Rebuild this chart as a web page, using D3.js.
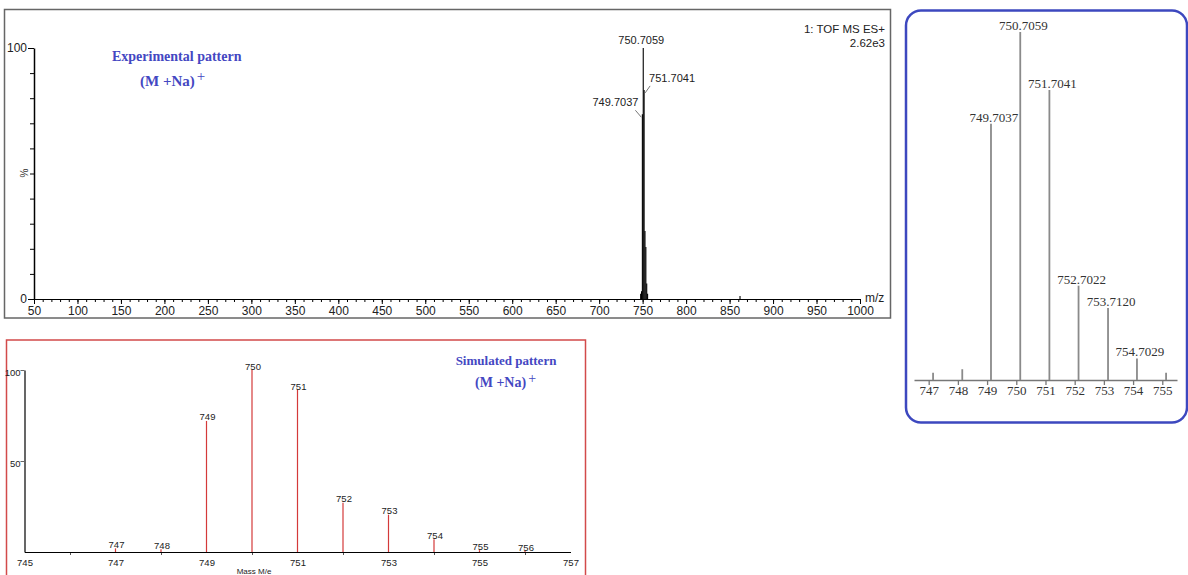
<!DOCTYPE html>
<html>
<head>
<meta charset="utf-8">
<script src="https://cdn.jsdelivr.net/npm/d3@7"></script>
<style>
  body { margin: 0; background: #fff; }
  svg { display: block; }
  .sans { font-family: "Liberation Sans", Arial, sans-serif; }
  .serif { font-family: "Liberation Serif", "Times New Roman", serif; }
</style>
</head>
<body>
<script>

var width = 1188,
  height = 575;

// experimental isotope cluster (m/z, relative intensity %)
var expMass = [747.72, 748.72, 749.7037, 750.7059, 751.7041, 752.7022, 753.7120, 754.7029, 755.70];
var expInt = [2.1, 3.1, 73.6, 100, 83.3, 27.1, 20.7, 6.2, 2.1];
var expLabel = ["", "", "749.7037", "750.7059", "751.7041", "752.7022", "753.7120", "754.7029", ""];

// small peaks that only show in the full scan
var scanMass = [862];
var scanInt = [1.2];

// simulated isotope pattern
var simMass = [747, 748, 749, 750, 751, 752, 753, 754, 755, 756];
var simInt = [2, 1.5, 72, 100, 89, 27, 20.5, 7, 1, 0.5];

// tick labels
var scanTicks = d3.range(50, 1001, 50);
var scanMinor = d3.range(50, 1001, 10);
var insetTicks = [747, 748, 749, 750, 751, 752, 753, 754, 755];
var simTickLabels = [745, 747, 749, 751, 753, 755, 757];
var simMinor = [746, 748, 750, 752, 754, 756];

var blue = "#4447c2";

var svg = d3.select("body").append("svg")
  .attr("width", width)
  .attr("height", height);

// ---------- full scan (top left) ----------
var scan = svg.append("g");

scan.append("rect")
  .attr("x", 4.5).attr("y", 9.5)
  .attr("width", 886).attr("height", 308.5)
  .attr("fill", "none").attr("stroke", "#666").attr("stroke-width", 1.5);

var xT = d3.scaleLinear().domain([50, 1000]).range([34, 860]);
var yT = d3.scaleLinear().domain([0, 100]).range([299, 48]);

// minor x ticks
scan.append("g")
  .attr("transform", "translate(0,299)")
  .call(d3.axisBottom(xT).tickValues(scanMinor).tickSize(3).tickFormat(""))
  .call(function(g) { g.select(".domain").remove(); });

var xAxisT = scan.append("g")
  .attr("class", "sans")
  .attr("transform", "translate(0,299)")
  .call(d3.axisBottom(xT).tickValues(scanTicks).tickSize(5).tickSizeOuter(0)
    .tickPadding(2).tickFormat(d3.format("d")));
xAxisT.select(".domain").attr("stroke", "#000").attr("stroke-width", 1.2);
xAxisT.selectAll("text").attr("font-size", 12).attr("fill", "#222");

scan.append("g")
  .attr("transform", "translate(34,0)")
  .call(d3.axisLeft(yT).tickValues(d3.range(0, 101, 10)).tickSize(4).tickFormat(""))
  .call(function(g) { g.select(".domain").remove(); });

var yAxisT = scan.append("g")
  .attr("class", "sans")
  .attr("transform", "translate(34,0)")
  .call(d3.axisLeft(yT).tickValues([0, 100]).tickSize(6).tickSizeOuter(0).tickPadding(1));
yAxisT.select(".domain").attr("stroke", "#000").attr("stroke-width", 1.5);
yAxisT.selectAll("text").attr("font-size", 12).attr("fill", "#222");

scan.append("text").attr("class", "sans")
  .attr("transform", "translate(28,173) rotate(-90)")
  .attr("text-anchor", "middle").attr("font-size", 10).attr("fill", "#333")
  .text("%");

scan.append("text").attr("class", "sans")
  .attr("x", 865).attr("y", 302).attr("font-size", 12).attr("fill", "#222")
  .text("m/z");

scan.append("text").attr("class", "sans")
  .attr("x", 885).attr("y", 33).attr("text-anchor", "end")
  .attr("font-size", 11.5).attr("fill", "#222")
  .text("1: TOF MS ES+");
scan.append("text").attr("class", "sans")
  .attr("x", 885).attr("y", 47).attr("text-anchor", "end")
  .attr("font-size", 11.5).attr("fill", "#222")
  .text("2.62e3");

var scanPeaks = expMass.map(function(m, i) { return {m: m, v: expInt[i]}; })
  .concat(scanMass.map(function(m, i) { return {m: m, v: scanInt[i]}; }));

scan.selectAll("line.peak").data(scanPeaks).enter().append("line")
  .attr("class", "peak")
  .attr("x1", function(d) { return xT(d.m); })
  .attr("x2", function(d) { return xT(d.m); })
  .attr("y1", yT(0))
  .attr("y2", function(d) { return yT(d.v); })
  .attr("stroke", "#000")
  .attr("stroke-width", 1.1);

// labels of the three main peaks, with short leaders
var labelled = [3, 4, 2];
var lab = scan.selectAll("g.lab").data(labelled).enter().append("g")
  .attr("class", "lab sans")
  .attr("transform", function(i) {
    return "translate(" + xT(expMass[i]) + "," + yT(expInt[i]) + ")";
  });

lab.append("text")
  .attr("font-size", 11).attr("fill", "#222")
  .attr("text-anchor", function(i) { return i == 3 ? "middle" : (i == 4 ? "start" : "end"); })
  .attr("x", function(i) { return i == 3 ? -2 : (i == 4 ? 5 : -4); })
  .attr("y", function(i) { return i == 3 ? -4 : -8; })
  .text(function(i) { return expLabel[i]; });

lab.filter(function(i) { return i != 3; }).append("line")
  .attr("x1", function(i) { return i == 4 ? 1 : -1; })
  .attr("y1", 3)
  .attr("x2", function(i) { return i == 4 ? 6 : -7; })
  .attr("y2", -4)
  .attr("stroke", "#777").attr("stroke-width", 1);

scan.append("text").attr("class", "serif")
  .attr("x", 112).attr("y", 61)
  .attr("font-size", 14).attr("font-weight", "bold").attr("fill", blue)
  .text("Experimental pattern");
var tT = scan.append("text").attr("class", "serif")
  .attr("x", 140).attr("y", 86)
  .attr("font-size", 15).attr("font-weight", "bold").attr("fill", blue);
tT.append("tspan").text("(M +Na)");
tT.append("tspan").attr("dx", 2).attr("dy", -5).attr("font-weight", "normal").text("+");

// ---------- zoomed cluster (right) ----------
var ins = svg.append("g");

ins.append("rect")
  .attr("x", 906).attr("y", 10.5)
  .attr("width", 281).attr("height", 412)
  .attr("rx", 15).attr("ry", 15)
  .attr("fill", "none").attr("stroke", "#3d48bf").attr("stroke-width", 2.5);

var xR = d3.scaleLinear().domain([747.067, 756.074]).range([914, 1177]);
var yR = d3.scaleLinear().domain([0, 100]).range([380, 32]);
var tickShift = 0.57;  // nominal mass labels sit a little left of the peaks

var xAxisR = ins.append("g")
  .attr("class", "serif")
  .attr("transform", "translate(0,380)")
  .call(d3.axisBottom(xR)
    .tickValues(insetTicks.map(function(v) { return v + tickShift; }))
    .tickFormat(function(v) { return Math.round(v - tickShift); })
    .tickSize(5).tickSizeOuter(0).tickPadding(1));
xAxisR.select(".domain").attr("stroke", "#777").attr("stroke-width", 1.5);
xAxisR.selectAll(".tick line").attr("stroke", "#777").attr("stroke-width", 1.3);
xAxisR.selectAll("text").attr("font-size", 13).attr("fill", "#333");

ins.selectAll("line.peak").data(expMass).enter().append("line")
  .attr("class", "peak")
  .attr("x1", function(d) { return xR(d); })
  .attr("x2", function(d) { return xR(d); })
  .attr("y1", yR(0))
  .attr("y2", function(d, i) { return yR(expInt[i]); })
  .attr("stroke", "#8a8a8a")
  .attr("stroke-width", 1.8);

ins.selectAll("text.plab").data(expMass).enter().append("text")
  .attr("class", "plab serif")
  .attr("x", function(d) { return xR(d) + 3; })
  .attr("y", function(d, i) { return yR(expInt[i]) - 2; })
  .attr("text-anchor", "middle")
  .attr("font-size", 13).attr("fill", "#333")
  .text(function(d, i) { return expLabel[i]; });

// ---------- simulated pattern (bottom left) ----------
var sim = svg.append("g");

sim.append("rect")
  .attr("x", 6.5).attr("y", 340)
  .attr("width", 579).attr("height", 250)
  .attr("fill", "none").attr("stroke", "#d24a4a").attr("stroke-width", 1.5);

var xS = d3.scaleLinear().domain([745, 757]).range([24.5, 570.5]);
var yS = d3.scaleLinear().domain([0, 100]).range([552, 370]);

sim.append("g")
  .attr("transform", "translate(0,552)")
  .call(d3.axisBottom(xS).tickValues(simMinor).tickSize(3).tickFormat(""))
  .call(function(g) { g.select(".domain").remove(); g.selectAll("line").attr("stroke", "#555"); });

var xAxisS = sim.append("g")
  .attr("class", "sans")
  .attr("transform", "translate(0,552)")
  .call(d3.axisBottom(xS).tickValues(simTickLabels).tickSize(0).tickSizeOuter(0).tickPadding(7));
xAxisS.select(".domain").attr("stroke", "#000").attr("stroke-width", 1.2);
xAxisS.selectAll("text").attr("font-size", 9.5).attr("fill", "#222");

var yAxisS = sim.append("g")
  .attr("class", "sans")
  .attr("transform", "translate(24.5,0)")
  .call(d3.axisLeft(yS).tickValues([50, 100]).tickSize(4).tickSizeOuter(0).tickPadding(0));
yAxisS.select(".domain").attr("stroke", "#000").attr("stroke-width", 1.2);
yAxisS.selectAll(".tick line").attr("stroke", "#666");
yAxisS.selectAll("text").attr("font-size", 9.5).attr("fill", "#222").attr("dy", "0.55em");

sim.append("text").attr("class", "sans")
  .attr("x", 254).attr("y", 574).attr("text-anchor", "middle")
  .attr("font-size", 8).attr("fill", "#222")
  .text("Mass M/e");

sim.selectAll("line.peak").data(simMass).enter().append("line")
  .attr("class", "peak")
  .attr("x1", function(d) { return xS(d); })
  .attr("x2", function(d) { return xS(d); })
  .attr("y1", yS(0))
  .attr("y2", function(d, i) { return yS(simInt[i]); })
  .attr("stroke", "#d43a3a")
  .attr("stroke-width", 1.2);

sim.selectAll("text.plab").data(simMass).enter().append("text")
  .attr("class", "plab sans")
  .attr("x", function(d) { return xS(d) + 1; })
  .attr("y", function(d, i) { return yS(simInt[i]) - 0.5; })
  .attr("text-anchor", "middle")
  .attr("font-size", 9.5).attr("fill", "#222")
  .text(function(d) { return d; });

sim.append("text").attr("class", "serif")
  .attr("x", 506).attr("y", 365).attr("text-anchor", "middle")
  .attr("font-size", 13).attr("font-weight", "bold").attr("fill", blue)
  .text("Simulated pattern");
var tS = sim.append("text").attr("class", "serif")
  .attr("x", 475).attr("y", 387)
  .attr("font-size", 14).attr("font-weight", "bold").attr("fill", blue);
tS.append("tspan").text("(M +Na)");
tS.append("tspan").attr("dx", 2).attr("dy", -4).attr("font-weight", "normal").text("+");

</script>
</body>
</html>
